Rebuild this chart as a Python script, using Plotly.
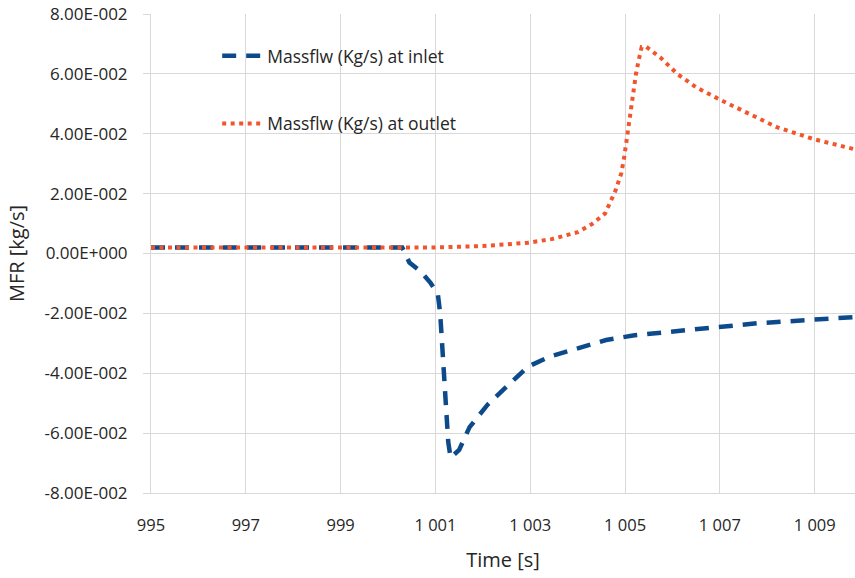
import plotly.graph_objects as go

# Data
t_inlet = [995, 1000.3, 1000.45, 1000.7, 1000.9, 1001.05, 1001.1, 1001.18, 1001.27, 1001.32,
           1001.5, 1001.72, 1002.1, 1002.5, 1002.95, 1003.4, 1004.0, 1004.6, 1005.2, 1005.9,
           1006.5, 1007.1, 1007.8, 1008.4, 1009.0, 1009.85]
m_inlet = [0.002, 0.002, -0.003, -0.0062, -0.0099, -0.0135, -0.02, -0.042, -0.063, -0.0682,
           -0.0656, -0.058, -0.0505, -0.0445, -0.0378, -0.0345, -0.0316, -0.0289, -0.0273, -0.0262,
           -0.0252, -0.0242, -0.0233, -0.0227, -0.0222, -0.0212]

t_outlet = [995, 1001.0, 1002.0, 1002.5, 1002.95, 1003.45, 1004.0, 1004.3, 1004.58, 1004.8,
            1004.92, 1004.98, 1005.03, 1005.08, 1005.13, 1005.18, 1005.23, 1005.28, 1005.35,
            1005.45, 1005.75, 1006.1, 1006.5, 1007.0, 1007.6, 1008.2, 1009.0, 1009.85]
m_outlet = [0.002, 0.002, 0.0025, 0.003, 0.0036, 0.0048, 0.0071, 0.0098, 0.0134, 0.0211,
            0.0268, 0.032, 0.038, 0.0434, 0.0488, 0.0544, 0.060, 0.064, 0.069,
            0.069, 0.0654, 0.060, 0.0555, 0.0514, 0.0468, 0.0422, 0.0381, 0.0348]

x_ticks = [995, 997, 999, 1001, 1003, 1005, 1007, 1009]
x_labels = ["995", "997", "999", "1 001", "1 003", "1 005", "1 007", "1 009"]
y_ticks = [-0.08, -0.06, -0.04, -0.02, 0.0, 0.02, 0.04, 0.06, 0.08]
y_labels = ["-8.00E-002", "-6.00E-002", "-4.00E-002", "-2.00E-002", "0.00E+000",
            "2.00E-002", "4.00E-002", "6.00E-002", "8.00E-002"]

FONT = "Open Sans, sans-serif"
TXT = "#262626"
GRID = "#d9d9d9"

fig = go.Figure()
fig.add_trace(go.Scatter(
    x=t_inlet, y=m_inlet, mode="lines", name="Massflw (Kg/s) at inlet",
    line=dict(color="#0D4A8C", width=4.5, dash="14px,10px"),
    legendgroup="a",
))
fig.add_trace(go.Scatter(
    x=t_outlet, y=m_outlet, mode="lines", name="Massflw (Kg/s) at outlet",
    line=dict(color="#F2552C", width=4, dash="4px,4.5px"),
    legendgroup="b",
))

# white legend box covering the gridlines (drawn between gridlines and traces)
fig.add_shape(type="rect", xref="paper", yref="paper",
              x0=0.0795, x1=0.467, y0=0.7056, y1=0.983,
              fillcolor="white", line=dict(width=0), layer="between")

fig.update_layout(
    width=855, height=578,
    margin=dict(l=151, r=0, t=14, b=85),
    paper_bgcolor="white", plot_bgcolor="white",
    font=dict(family=FONT, size=16, color=TXT),
    showlegend=True,
    legend=dict(
        x=0.094, y=0.95, xanchor="left", yanchor="top",
        bgcolor="rgba(0,0,0,0)", borderwidth=0,
        font=dict(family=FONT, size=17.5, color=TXT),
        tracegroupgap=42, itemwidth=40,
    ),
    xaxis=dict(
        range=[995, 1009.85], tickvals=x_ticks, ticktext=x_labels,
        showgrid=True, gridcolor=GRID, gridwidth=1,
        zeroline=False, showline=True, linecolor=GRID,
        ticks="", tickfont=dict(family=FONT, size=16.5, color=TXT),
        ticklabelstandoff=17,
        title=dict(text="Time [s]", font=dict(family=FONT, size=20, color=TXT), standoff=18),
    ),
    yaxis=dict(
        range=[-0.08, 0.08], tickvals=y_ticks, ticktext=y_labels,
        showgrid=True, gridcolor=GRID, gridwidth=1,
        zeroline=False, showline=True, linecolor=GRID,
        ticks="outside", ticklen=7, tickcolor=GRID,
        tickfont=dict(family=FONT, size=17, color=TXT),
        ticklabelstandoff=12,
        title=dict(text="MFR [kg/s]", font=dict(family=FONT, size=20, color=TXT), standoff=14),
    ),
)

fig.write_html("out.html")
